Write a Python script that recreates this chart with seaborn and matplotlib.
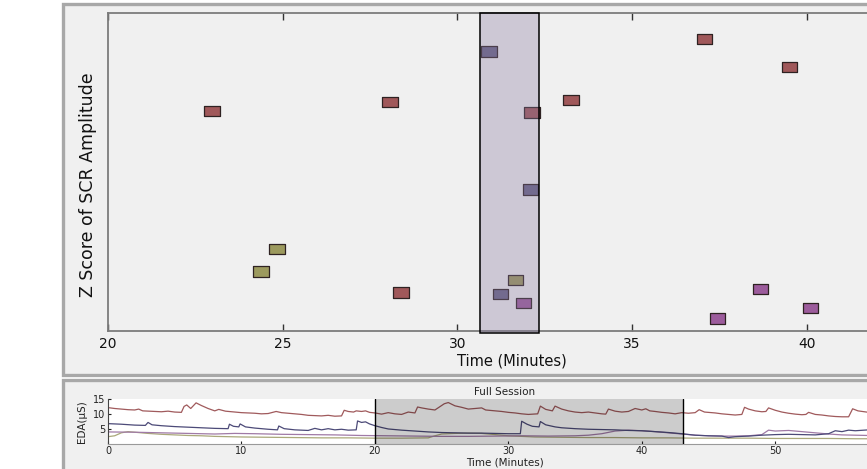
import matplotlib
matplotlib.use("Agg")
import numpy as np
import pandas as pd
import seaborn as sns
import matplotlib.pyplot as plt
from matplotlib.patches import Rectangle
from matplotlib.path import Path
from matplotlib.markers import MarkerStyle

# ---------------- data: SCR amplitude events (top panel) ----------------
red_time = [22.98, 28.07, 28.38, 32.13, 33.25, 37.08, 39.51]
red_z = [1.96, 2.10, -0.90, 1.94, 2.13, 3.09, 2.65]
olive_time = [24.38, 24.84, 31.67]
olive_z = [-0.57, -0.21, -0.70]
slate_time = [30.90, 32.10, 31.24]
slate_z = [2.89, 0.72, -0.92]
purple_time = [31.90, 37.45, 38.68, 40.11]
purple_z = [-1.06, -1.30, -0.84, -1.14]

window_start = 30.64
window_end = 32.33
view_start = 20.0
view_end = 43.1

top_xticks = [20, 25, 30, 35, 40]
bottom_xticks = [0, 10, 20, 30, 40, 50]
bottom_yticks = [5, 10, 15]

# ---------------- data: full-session EDA traces (bottom panel) ----------------
eda_red_t = [0, 0.5, 1, 1.5, 2, 2.3, 2.6, 3.5, 4, 4.5, 5, 5.5, 5.7, 5.9, 6.2, 6.6, 7.0, 7.5, 8.0, 8.3,
             8.8, 9.5, 10, 10.5, 11, 11.5, 12, 12.6, 13, 13.5, 14, 14.5, 15, 15.5, 16, 16.5, 17, 17.5,
             17.7, 18, 18.4, 18.6, 19, 19.3, 19.6, 20, 20.5, 21, 21.5, 22, 22.5, 23, 23.2, 23.5, 24,
             24.5, 25.2, 25.5, 26, 26.5, 27, 27.5, 28, 28.3, 29, 29.5, 30, 30.5, 31, 31.5, 32.2, 32.4,
             32.8, 33.3, 33.5, 34, 34.5, 35, 35.5, 36, 36.5, 37, 37.3, 37.5, 38, 38.5, 39, 39.5, 40,
             40.3, 40.6, 41, 41.5, 42, 42.5, 43, 43.5, 44, 44.3, 44.7, 45, 45.5, 46, 46.5, 47, 47.5,
             47.7, 48, 48.5, 49, 49.3, 49.5, 50, 50.5, 51, 51.5, 52, 52.3, 52.5, 53, 53.5, 54, 54.5,
             55, 55.5, 55.8, 56.2, 57, 58, 59, 60]
eda_red_v = [12.1, 11.8, 11.6, 11.4, 11.3, 11.6, 11.0, 10.8, 10.7, 10.9, 10.6, 10.5, 12.5, 13.0, 11.8,
             13.7, 12.8, 11.8, 11.0, 11.5, 10.9, 10.6, 10.4, 10.3, 10.2, 10.0, 10.1, 10.8, 10.4, 10.2,
             10.0, 9.8, 9.5, 9.4, 9.3, 9.5, 9.2, 9.3, 11.2, 10.8, 10.6, 11.0, 10.8, 11.0, 10.5, 10.3,
             9.9, 10.4, 10.0, 9.8, 10.6, 10.3, 12.3, 12.0, 11.6, 11.3, 13.4, 13.8, 12.7, 12.2, 11.6,
             11.8, 12.0, 11.3, 11.0, 10.8, 10.5, 10.3, 10.0, 9.8, 10.0, 12.6, 11.5, 11.0, 12.6, 11.6,
             11.0, 10.6, 10.4, 10.6, 10.3, 10.0, 9.9, 11.6, 10.9, 10.6, 10.8, 11.8, 11.3, 11.7, 11.0,
             10.8, 10.5, 10.3, 10.0, 10.4, 10.2, 10.4, 11.4, 10.6, 10.5, 10.3, 10.0, 9.8, 9.6, 9.8,
             12.2, 11.6, 11.0, 10.7, 10.8, 12.0, 11.2, 10.6, 10.2, 9.9, 9.7, 9.8, 10.5, 9.8, 9.6,
             9.3, 9.1, 9.0, 9.0, 11.7, 11.0, 10.5, 10.0, 9.8, 9.6]

eda_slate_t = [0, 1, 2, 2.8, 3.0, 3.3, 4, 5, 6, 7, 8, 9, 9.1, 9.4, 9.8, 9.9, 10.3, 11, 12, 12.7, 12.8,
               13.2, 14, 15, 15.5, 16, 16.5, 17, 17.5, 18, 18.6, 18.7, 19, 19.3, 19.6, 20, 20.5, 21,
               22, 23, 24, 25, 26, 27, 28, 29, 30, 30.9, 31.0, 31.4, 31.8, 32.3, 32.4, 32.8, 33.5,
               34, 35, 36, 37, 38, 39, 40, 41, 42, 43, 44, 45, 46, 46.5, 47, 48, 49, 50, 51, 52, 53,
               54, 54.5, 55, 55.5, 56, 57, 58, 59, 60]
eda_slate_v = [6.7, 6.5, 6.2, 6.1, 7.1, 6.3, 6.0, 5.7, 5.5, 5.3, 5.1, 5.0, 6.5, 5.8, 5.6, 6.6, 5.6, 5.2,
               4.8, 4.6, 5.9, 5.0, 4.6, 4.4, 5.1, 4.6, 5.0, 4.6, 4.8, 4.5, 4.6, 7.6, 7.1, 7.3, 6.6, 6.0,
               5.4, 4.9, 4.5, 4.2, 3.9, 3.7, 3.6, 3.5, 3.5, 3.4, 3.3, 3.3, 7.5, 6.5, 5.8, 5.6, 7.4, 6.3,
               5.6, 5.3, 5.0, 4.8, 4.7, 4.6, 4.4, 4.3, 4.0, 3.7, 3.3, 2.8, 2.6, 2.5, 2.0, 2.3, 2.5, 2.8,
               3.0, 3.1, 3.0, 2.9, 3.3, 4.3, 4.0, 4.5, 4.3, 4.6, 4.5, 4.2, 4.0]

eda_purple_t = [0, 2, 4, 6, 8, 9.5, 11, 13, 15, 17, 19, 21, 23, 25, 27, 29, 31, 33, 35, 36, 37, 38, 39,
                40, 41, 42, 43, 44, 45, 46, 47, 48, 49, 49.5, 50, 51, 52, 53, 54, 55, 56, 57, 58, 60]
eda_purple_v = [3.9, 3.8, 3.6, 3.4, 3.2, 3.4, 3.3, 3.1, 3.0, 2.9, 2.7, 2.6, 2.5, 2.4, 2.4, 2.5, 2.6,
                2.5, 2.6, 2.8, 3.3, 4.2, 4.5, 4.3, 4.0, 3.6, 3.2, 2.8, 2.6, 2.5, 2.5, 2.6, 3.0, 4.5,
                4.2, 4.4, 4.0, 3.6, 3.2, 2.9, 2.8, 2.7, 2.6, 2.5]

eda_olive_t = [0, 0.5, 1, 1.5, 2, 3, 4, 5, 6, 7, 8, 9, 10, 12, 14, 16, 18, 20, 22, 24, 24.5, 25, 26,
               27, 28, 29, 30, 31, 32, 34, 36, 38, 40, 42, 44, 46, 48, 50, 52, 54, 56, 58, 60]
eda_olive_v = [2.3, 2.6, 3.6, 4.0, 3.8, 3.4, 3.1, 2.9, 2.7, 2.6, 2.4, 2.3, 2.2, 2.1, 2.0, 1.9, 1.9,
               1.8, 1.8, 1.9, 2.6, 3.2, 3.4, 3.5, 3.4, 3.0, 2.6, 2.4, 2.2, 2.1, 2.0, 2.0, 1.9, 1.9,
               1.8, 1.8, 1.8, 1.7, 1.7, 1.7, 1.6, 1.6, 1.6]

# ---------------- tables ----------------
points = pd.concat([
    pd.DataFrame({"time": red_time, "z": red_z, "group": "P1"}),
    pd.DataFrame({"time": olive_time, "z": olive_z, "group": "P4"}),
    pd.DataFrame({"time": slate_time, "z": slate_z, "group": "P2"}),
    pd.DataFrame({"time": purple_time, "z": purple_z, "group": "P3"}),
], ignore_index=True)

lines = pd.concat([
    pd.DataFrame({"time": eda_olive_t, "eda": eda_olive_v, "group": "P4"}),
    pd.DataFrame({"time": eda_purple_t, "eda": eda_purple_v, "group": "P3"}),
    pd.DataFrame({"time": eda_slate_t, "eda": eda_slate_v, "group": "P2"}),
    pd.DataFrame({"time": eda_red_t, "eda": eda_red_v, "group": "P1"}),
], ignore_index=True)

marker_pal = {"P1": "#a0585a", "P2": "#6a6688", "P3": "#9c5c9c", "P4": "#9c9a5e"}
line_pal = {"P1": "#a05a5c", "P2": "#4c4a78", "P3": "#a07aa6", "P4": "#aaa87a"}

# ---------------- figure ----------------
sns.set_style("ticks")
plt.rcParams["font.family"] = ["DejaVu Sans"]

W, H = 867, 469
fig = plt.figure(figsize=(W / 100, H / 100), dpi=100)
fig.patch.set_facecolor("white")

# panel frames
fig.add_artist(Rectangle((63 / W, 1 - 375 / H), (1200 - 63) / W, 371 / H, transform=fig.transFigure,
                         facecolor="#f0f0f0", edgecolor="#a8a8a8", lw=2.4, zorder=0))
fig.add_artist(Rectangle((63 / W, 1 - 520 / H), (1200 - 63) / W, (520 - 380) / H, transform=fig.transFigure,
                         facecolor="#f0f0f0", edgecolor="#a8a8a8", lw=2.4, zorder=0))

# top axes
ax1 = fig.add_axes([108 / W, 1 - 331 / H, 807 / W, 318 / H])
ax1.set_facecolor("#f0f0f0")

rect = Path([(-1, -0.69), (1, -0.69), (1, 0.69), (-1, 0.69), (-1, -0.69)],
            [Path.MOVETO, Path.LINETO, Path.LINETO, Path.LINETO, Path.CLOSEPOLY])
sns.scatterplot(data=points, x="time", y="z", hue="group", palette=marker_pal,
                marker=MarkerStyle(rect), s=125, edgecolor="#2e2222", linewidth=0.9,
                legend=False, ax=ax1, zorder=3)

ax1.axvspan(window_start, window_end, ymin=-0.007, ymax=1, facecolor=(0.533, 0.47, 0.627, 0.33),
            edgecolor="black", lw=1.1, zorder=4, clip_on=False)

ax1.set_xlim(view_start, view_end)
ax1.set_ylim(-1.5, 3.5)
ax1.set_xticks(top_xticks)
ax1.set_yticks([])
ax1.tick_params(axis="x", direction="in", top=True, length=5, width=1, color="#333333",
                labelsize=10, pad=4, labelcolor="#111111")
for s in ax1.spines.values():
    s.set_color("#7c7c7c")
    s.set_linewidth(1.3)
ax1.set_xlabel("Time (Minutes)", fontsize=10.5, labelpad=2, color="#111111")
ax1.set_ylabel("Z Score of SCR Amplitude", fontsize=12.5, color="#111111")
ax1.yaxis.set_label_coords(-0.014, 0.46)

# bottom axes
ax2 = fig.add_axes([108 / W, 1 - 443.5 / H, 794 / W, 44.5 / H])
ax2.set_facecolor("white")
sns.lineplot(data=lines, x="time", y="eda", hue="group", palette=line_pal, linewidth=0.9,
             estimator=None, sort=False, legend=False, ax=ax2, zorder=2)
ax2.axvspan(view_start, view_end, facecolor=(0, 0, 0, 0.2), edgecolor="none", zorder=5)
ax2.axvline(view_start, color="black", lw=1.0, zorder=6)
ax2.axvline(view_end, color="black", lw=1.0, zorder=6)
ax2.set_xlim(0, 59.5)
ax2.set_ylim(0, 15)
ax2.set_xticks(bottom_xticks)
ax2.set_yticks(bottom_yticks)
ax2.tick_params(axis="both", direction="in", length=2, width=0.8, labelsize=7, pad=2,
                colors="#222222")
ax2.spines["top"].set_visible(False)
ax2.spines["right"].set_visible(False)
ax2.spines["left"].set_color("#444444")
ax2.spines["bottom"].set_color("#9a9a9a")
ax2.set_title("Full Session", fontsize=7.5, pad=3, color="#222222")
ax2.set_xlabel("Time (Minutes)", fontsize=7.5, labelpad=1, color="#222222")
ax2.set_ylabel("EDA(μS)", fontsize=7.5, labelpad=4, color="#222222")

fig.savefig("out.png", dpi=100)
